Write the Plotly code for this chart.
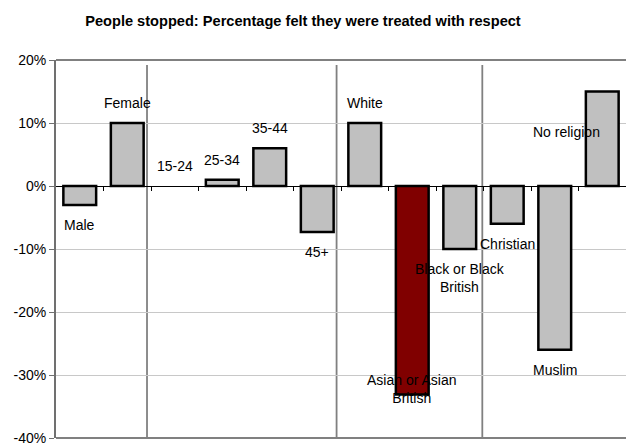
import plotly.graph_objects as go

# Survey groups and the change in share of people stopped who felt respected
groups = ["Male", "Female", "15-24", "25-34", "35-44", "45+", "White",
          "Asian or Asian<br>British", "Black or Black<br>British",
          "Christian", "Muslim", "No religion"]
values = [-3, 10, 0, 1, 6, -7.3, 10, -33.1, -10, -6, -26, 15]
highlight = "Asian or Asian<br>British"

y_ticks = [20, 10, 0, -10, -20, -30, -40]
y_tick_text = ["20%", "10%", "0%", "-10%", "-20%", "-30%", "-40%"]

# group separators (gender | age | ethnicity | religion), in category units
separators = [1.416, 5.407, 8.475]

FONT = "Liberation Sans, Arial, sans-serif"
idx = list(range(len(groups)))
colors = ["#800000" if g == highlight else "#c0c0c0" for g in groups]
edge_widths = [0 if v == 0 else 2.5 for v in values]

fig = go.Figure()
fig.add_trace(go.Bar(
    x=idx, y=values, width=0.69,
    marker=dict(color=colors, line=dict(color="black", width=edge_widths)),
    hoverinfo="skip", showlegend=False,
))

# category labels: above positive bars, below negative ones
special = {
    highlight: dict(x=7, y=-32.2, yanchor="middle", yshift=0),
    "No religion": dict(x=10.24, y=8.5, yanchor="middle", yshift=0),
}
for i, (g, v) in enumerate(zip(groups, values)):
    if g in special:
        pos = special[g]
    elif v >= 0:
        pos = dict(x=i, y=v, yanchor="bottom", yshift=10)
    else:
        pos = dict(x=i, y=v, yanchor="top", yshift=-10)
    fig.add_annotation(text=g, xref="x", yref="y", showarrow=False,
                       xanchor="center", align="center",
                       font=dict(family=FONT, size=14, color="black"),
                       **pos)

shapes = []
for s in separators:
    shapes.append(dict(type="line", xref="x", yref="paper", x0=s, x1=s,
                       y0=0, y1=0.987, line=dict(color="#808080", width=1.8),
                       layer="below"))
# top and bottom frame
for yy in (0, 1):
    shapes.append(dict(type="line", xref="paper", yref="paper", x0=0, x1=1.01,
                       y0=yy, y1=yy, line=dict(color="#808080", width=2),
                       layer="below"))

fig.update_layout(
    width=626, height=446,
    margin=dict(l=56, r=0, t=60, b=4),
    paper_bgcolor="white", plot_bgcolor="white",
    title=dict(text="<b>People stopped: Percentage felt they were treated with respect</b>",
               x=0.484, xanchor="center", y=0.953, yanchor="middle",
               font=dict(family=FONT, size=14.6, color="black")),
    shapes=shapes,
    bargap=0.3,
    xaxis=dict(range=[-0.5, len(groups) - 0.5], showgrid=False, zeroline=False,
               anchor="free", position=2 / 3, showline=True, linecolor="black",
               linewidth=1, ticks="outside", ticklen=4, tickcolor="black",
               tickvals=[k + 0.5 for k in range(len(groups) - 1)],
               showticklabels=False),
    yaxis=dict(range=[-40, 20], tickvals=y_ticks, ticktext=y_tick_text,
               showgrid=True, gridcolor="#c8c8c8", gridwidth=1,
               zeroline=False, showline=True, linecolor="#707070", linewidth=2,
               ticks="outside", ticklen=5, tickcolor="#707070",
               ticklabeloverflow="allow",
               tickfont=dict(family=FONT, size=14, color="black")),
)

fig.write_html("out.html")
